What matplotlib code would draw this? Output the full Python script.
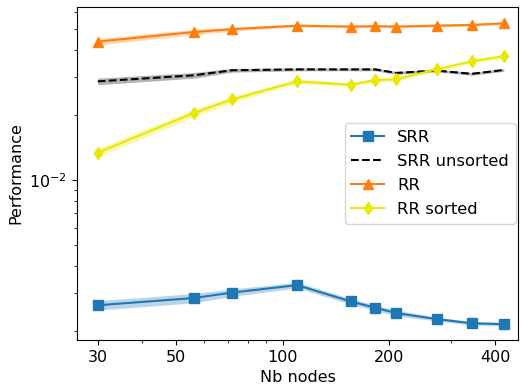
import matplotlib
matplotlib.use("Agg")
import matplotlib.pyplot as plt
import numpy as np
from matplotlib.ticker import FixedLocator, FixedFormatter, NullFormatter, LogLocator

# Number of nodes in each benchmark run
nb_nodes = [30, 56, 72, 110, 156, 183, 210, 273, 343, 423]

# Mean performance per method
srr = [2.63e-3, 2.84e-3, 3.01e-3, 3.26e-3, 2.74e-3, 2.56e-3, 2.42e-3, 2.27e-3, 2.17e-3, 2.15e-3]
srr_unsorted = [2.86e-2, 3.05e-2, 3.22e-2, 3.25e-2, 3.25e-2, 3.25e-2, 3.13e-2, 3.21e-2, 3.10e-2, 3.23e-2]
rr = [4.37e-2, 4.84e-2, 4.99e-2, 5.18e-2, 5.13e-2, 5.15e-2, 5.13e-2, 5.18e-2, 5.22e-2, 5.31e-2]
rr_sorted = [1.338e-2, 2.04e-2, 2.36e-2, 2.86e-2, 2.76e-2, 2.90e-2, 2.93e-2, 3.25e-2, 3.54e-2, 3.74e-2]

# Relative half-width of the confidence band for each method
srr_spread = [0.05, 0.05, 0.04, 0.03, 0.03, 0.03, 0.03, 0.02, 0.02, 0.02]
srr_unsorted_spread = [0.035, 0.03, 0.02, 0.015, 0.015, 0.015, 0.015, 0.015, 0.015, 0.015]
rr_spread = [0.035, 0.03, 0.02, 0.015, 0.015, 0.015, 0.015, 0.015, 0.015, 0.015]
rr_sorted_spread = [0.045, 0.04, 0.035, 0.025, 0.02, 0.02, 0.02, 0.02, 0.02, 0.02]

x_major = [30, 50, 100, 200, 400]
x_major_labels = ["30", "50", "100", "200", "400"]

fig = plt.figure(figsize=(5.21, 3.88), dpi=100)
ax = fig.add_axes([77 / 521, 1 - 340 / 388, (518 - 77) / 521, (340 - 7) / 388])

FS = 11.5
series = [
    ("SRR", srr, srr_spread, "#1f77b4", "-", "s"),
    ("SRR unsorted", srr_unsorted, srr_unsorted_spread, "black", "--", None),
    ("RR", rr, rr_spread, "#ff7f0e", "-", "^"),
    ("RR sorted", rr_sorted, rr_sorted_spread, "#e8e800", "-", "d"),
]

x = np.array(nb_nodes, dtype=float)
for label, vals, spread, color, ls, marker in series:
    v = np.array(vals)
    s = np.array(spread)
    ax.fill_between(x, v * (1 - s), v * (1 + s), color=color, alpha=0.3, linewidth=0)
    ax.plot(x, v, linestyle=ls, color=color, marker=marker, markersize=6.5 if marker else 0,
            linewidth=1.5, label=label)

ax.set_xscale("log")
ax.set_yscale("log")
ax.set_xlim(26.2, 464)
ax.set_ylim(1.816e-3, 6.32e-2)

ax.xaxis.set_major_locator(FixedLocator(x_major))
ax.xaxis.set_major_formatter(FixedFormatter(x_major_labels))
minor_x = [v for v in list(range(30, 100, 10)) + list(range(100, 500, 100)) if v not in x_major]
ax.xaxis.set_minor_locator(FixedLocator(minor_x))
ax.xaxis.set_minor_formatter(NullFormatter())

ax.yaxis.set_major_locator(LogLocator(base=10))
ax.yaxis.set_minor_locator(LogLocator(base=10, subs=np.arange(2, 10)))
ax.yaxis.set_minor_formatter(NullFormatter())

ax.tick_params(axis="both", which="major", labelsize=FS, length=3.5)
ax.tick_params(axis="both", which="minor", length=2.5)

ax.set_xlabel("Nb nodes", fontsize=FS)
ax.set_ylabel("Performance", fontsize=FS)
ax.legend(loc="center right", bbox_to_anchor=(1.0, 0.5), borderaxespad=0.15,
          fontsize=11.8, labelspacing=0.55)

fig.savefig("out.png", dpi=100)
